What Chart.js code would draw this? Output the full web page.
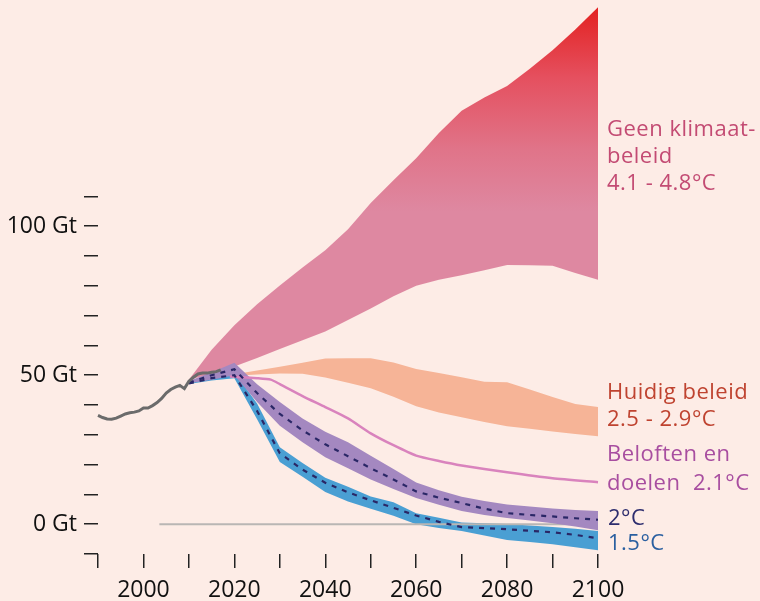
<!DOCTYPE html>
<html>
<head>
<meta charset="utf-8">
<script src="https://cdn.jsdelivr.net/npm/chart.js@4.4.1/dist/chart.umd.min.js"></script>
<style>
  html, body { margin: 0; padding: 0; background: #fdece6; }
  #wrap { width: 760px; height: 601px; }
</style>
</head>
<body>
<div id="wrap"><canvas id="emissions" width="760" height="601"></canvas></div>
<script>
// historical emissions (Gt CO2-eq)
var histYears = [1990, 1991, 1992, 1993, 1994, 1995, 1996, 1997, 1998, 1999,
  2000, 2001, 2002, 2003, 2004, 2005, 2006, 2007, 2008, 2009,
  2010, 2011, 2012, 2013, 2014, 2015, 2016, 2017];
var histValues = [36.5, 35.8, 35.3, 35.2, 35.6, 36.3, 37.0, 37.4, 37.6, 38.0,
  39.0, 39.0, 39.8, 40.8, 42.2, 44.0, 45.2, 46.0, 46.6, 45.5,
  48.0, 49.3, 50.4, 50.7, 50.7, 51.0, 51.2, 51.8];

// scenario years for the bands starting in 2010
var scenarioYears = [2010, 2015, 2020, 2025, 2030, 2035, 2040, 2045, 2050, 2055,
  2060, 2065, 2070, 2075, 2080, 2085, 2090, 2095, 2100];

// Geen klimaatbeleid
var noPolicyUpper = [48.5, 58.5, 66.8, 73.8, 80.1, 86.1, 91.9, 99.0, 107.8, 115.4,
  122.8, 131.3, 138.7, 143.2, 147.0, 152.8, 159.0, 166.0, 173.5];
var noPolicyLower = [48.5, 50.5, 52.9, 55.8, 58.8, 61.7, 64.7, 68.5, 72.4, 76.5,
  80.0, 82.0, 83.5, 85.2, 87.0, 86.9, 86.7, 84.3, 82.0];

// 2°C
var twoDegUpper = [48.0, 51.0, 54.2, 47.0, 41.0, 35.5, 31.0, 27.5, 23.0, 18.5,
  14.0, 11.4, 9.2, 7.8, 6.6, 5.9, 5.3, 4.8, 4.4];
var twoDegMid = [47.5, 50.0, 52.0, 44.0, 37.0, 31.5, 26.8, 22.8, 18.8, 15.0,
  11.0, 8.9, 7.1, 5.2, 3.7, 3.1, 2.6, 2.0, 1.5];
var twoDegLower = [47.3, 48.5, 50.0, 41.0, 33.0, 27.5, 22.5, 18.8, 15.0, 11.8,
  8.8, 6.5, 4.4, 3.1, 2.1, 1.2, 0.3, -0.8, -2.0];

// 1.5°C
var oneFiveUpper = [47.5, 49.5, 51.0, 40.5, 25.8, 20.5, 15.6, 12.6, 9.3, 7.4,
  3.7, 2.2, 0.6, 0.3, 0.1, -0.4, -0.9, -1.5, -2.3];
var oneFiveMid = [47.2, 49.0, 50.0, 38.0, 23.8, 18.3, 13.9, 10.7, 8.0, 5.5,
  2.9, 0.8, -1.0, -1.3, -1.7, -2.2, -2.7, -3.6, -4.7];
var oneFiveLower = [47.0, 48.2, 49.0, 35.2, 20.9, 15.9, 10.8, 7.6, 5.2, 2.8,
  0.0, -1.3, -2.3, -3.8, -5.3, -6.0, -6.7, -7.7, -8.7];

// Huidig beleid
var currentYears = [2020, 2025, 2030, 2035, 2040, 2045, 2050, 2055, 2060, 2065,
  2070, 2075, 2080, 2085, 2090, 2095, 2100];
var currentUpper = [50.3, 51.6, 52.8, 54.2, 55.6, 55.7, 55.7, 54.3, 52.1, 50.7,
  49.3, 47.8, 47.6, 45.2, 42.7, 40.3, 39.3];
var currentLower = [49.8, 50.2, 50.6, 50.5, 49.2, 47.5, 45.6, 42.8, 39.6, 37.5,
  35.9, 34.3, 32.9, 32.0, 31.1, 30.3, 29.5];

// Beloften en doelen
var pledgeYears = [2019, 2025, 2028, 2030, 2035, 2040, 2045, 2050, 2055, 2060,
  2065, 2070, 2080, 2090, 2100];
var pledgeValues = [49.6, 49.0, 48.5, 47.0, 43.0, 39.3, 35.5, 30.5, 26.5, 23.0,
  21.2, 19.7, 17.4, 15.4, 14.1];

var zeroLineYears = [2003.5, 2100];
var zeroLineValues = [0, 0];

var xTickYears = [1990, 2000, 2010, 2020, 2030, 2040, 2050, 2060, 2070, 2080, 2090, 2100];
var xTickLabels = [2000, 2020, 2040, 2060, 2080, 2100];
var yTickValues = [-10, 0, 10, 20, 30, 40, 50, 60, 70, 80, 90, 100, 110];
var yTickLabels = [0, 50, 100];

var sideLabels = [
  { text: "Geen klimaat-", y: 136, color: "#c34b73" },
  { text: "beleid", y: 163, color: "#c34b73" },
  { text: "4.1 - 4.8°C", y: 190, color: "#c34b73" },
  { text: "Huidig beleid", y: 399, color: "#bf4330" },
  { text: "2.5 - 2.9°C", y: 426, color: "#bf4330" },
  { text: "Beloften en", y: 461, color: "#a84ea0" },
  { text: "doelen  2.1°C", y: 490, color: "#a84ea0" },
  { text: "2°C", y: 525, color: "#2d2d6e", dx: 1 },
  { text: "1.5°C", y: 550, color: "#2a5fa0", dx: 1 },
];

function pts(xs, ys) {
  return xs.map((x, i) => ({ x: x, y: ys[i] }));
}

var clear = "rgba(0,0,0,0)";

function band(label, xs, upper, lower, color, order) {
  return [
    { label: label + " lower", data: pts(xs, lower), borderColor: clear, borderWidth: 0,
      pointRadius: 0, fill: false, order: order },
    { label: label, data: pts(xs, upper), borderColor: clear, borderWidth: 0,
      pointRadius: 0, fill: "-1", backgroundColor: color, order: order },
  ];
}

// red to pink gradient for the no-policy band
var noPolicyFill = (c) => {
  var chart = c.chart;
  if (!chart.chartArea) return "#de88a1";
  var y = chart.scales.y;
  var g = chart.ctx.createLinearGradient(0, y.getPixelForValue(174), 0, y.getPixelForValue(105));
  g.addColorStop(0, "#e3201f");
  g.addColorStop(0.35, "#e5505f");
  g.addColorStop(0.7, "#e07489");
  g.addColorStop(1, "#de88a1");
  return g;
};

var datasets = [].concat(
  band("Geen klimaatbeleid", scenarioYears, noPolicyUpper, noPolicyLower, noPolicyFill, 10),
  band("Huidig beleid", currentYears, currentUpper, currentLower, "#f6b497", 9),
  band("1.5°C", scenarioYears, oneFiveUpper, oneFiveLower, "#4a9fd3", 8),
  [{ label: "0", data: pts(zeroLineYears, zeroLineValues), borderColor: "#b9b6b4",
     borderWidth: 2, pointRadius: 0, fill: false, order: 7 }],
  band("2°C", scenarioYears, twoDegUpper, twoDegLower, "#a488c0", 6),
  [
    { label: "Beloften", data: pts(pledgeYears, pledgeValues), borderColor: "#d983bd",
      borderWidth: 2.5, pointRadius: 0, fill: false, tension: 0.2, order: 5 },
    { label: "2°C mid", data: pts(scenarioYears, twoDegMid), borderColor: "#2a2766",
      borderWidth: 2.2, borderDash: [5, 6], pointRadius: 0, fill: false, order: 4 },
    { label: "1.5°C mid", data: pts(scenarioYears, oneFiveMid), borderColor: "#2a2766",
      borderWidth: 2.2, borderDash: [5, 6], pointRadius: 0, fill: false, order: 3 },
    { label: "historisch", data: pts(histYears, histValues), borderColor: "#6b6b6b",
      borderWidth: 3, pointRadius: 0, fill: false, order: 1 },
  ]
);
datasets.forEach((d) => { d.clip = false; });

var sideLabelPlugin = {
  id: "sideLabels",
  afterDatasetsDraw(chart) {
    var ctx = chart.ctx;
    var x = chart.chartArea.right + 9;
    ctx.save();
    ctx.font = '22px "Open Sans"';
    ctx.letterSpacing = "0.5px";
    ctx.textBaseline = "alphabetic";
    ctx.textAlign = "left";
    sideLabels.forEach((l) => {
      ctx.fillStyle = l.color;
      ctx.fillText(l.text, x + (l.dx || 0), l.y);
    });
    ctx.restore();
  },
};

var tickFont = { family: "Open Sans", size: 23 };

var config = {
  type: "line",
  data: { datasets: datasets },
  options: {
    responsive: false,
    animation: false,
    layout: { padding: { left: 0, right: 162, top: 0, bottom: 0 } },
    plugins: { legend: { display: false }, tooltip: { enabled: false } },
    scales: {
      x: {
        type: "linear",
        min: 1990,
        max: 2100,
        afterBuildTicks: (s) => { s.ticks = xTickYears.map((v) => ({ value: v })); },
        afterFit: (s) => { s.height = 47; s.paddingLeft = 0; s.paddingRight = 0; },
        border: { display: false },
        grid: { drawOnChartArea: false, drawTicks: true, tickLength: 14, color: "#222", lineWidth: 1.5 },
        ticks: {
          autoSkip: false, maxRotation: 0, padding: 9, color: "#111", font: tickFont,
          callback: (v) => (xTickLabels.includes(v) ? String(v) : ""),
        },
      },
      y: {
        type: "linear",
        min: -10,
        max: 175.9,
        afterBuildTicks: (s) => { s.ticks = yTickValues.map((v) => ({ value: v })); },
        afterFit: (s) => { s.width = 98; s.paddingTop = 0; s.paddingBottom = 0; },
        border: { display: false },
        grid: { drawOnChartArea: false, drawTicks: true, tickLength: 14, color: "#222", lineWidth: 1.5 },
        ticks: {
          padding: 7, color: "#111", font: tickFont,
          callback: (v) => (yTickLabels.includes(v) ? v + " Gt" : ""),
        },
      },
    },
  },
  plugins: [sideLabelPlugin],
};

var myChart = new Chart(document.getElementById("emissions"), config);
</script>
</body>
</html>
